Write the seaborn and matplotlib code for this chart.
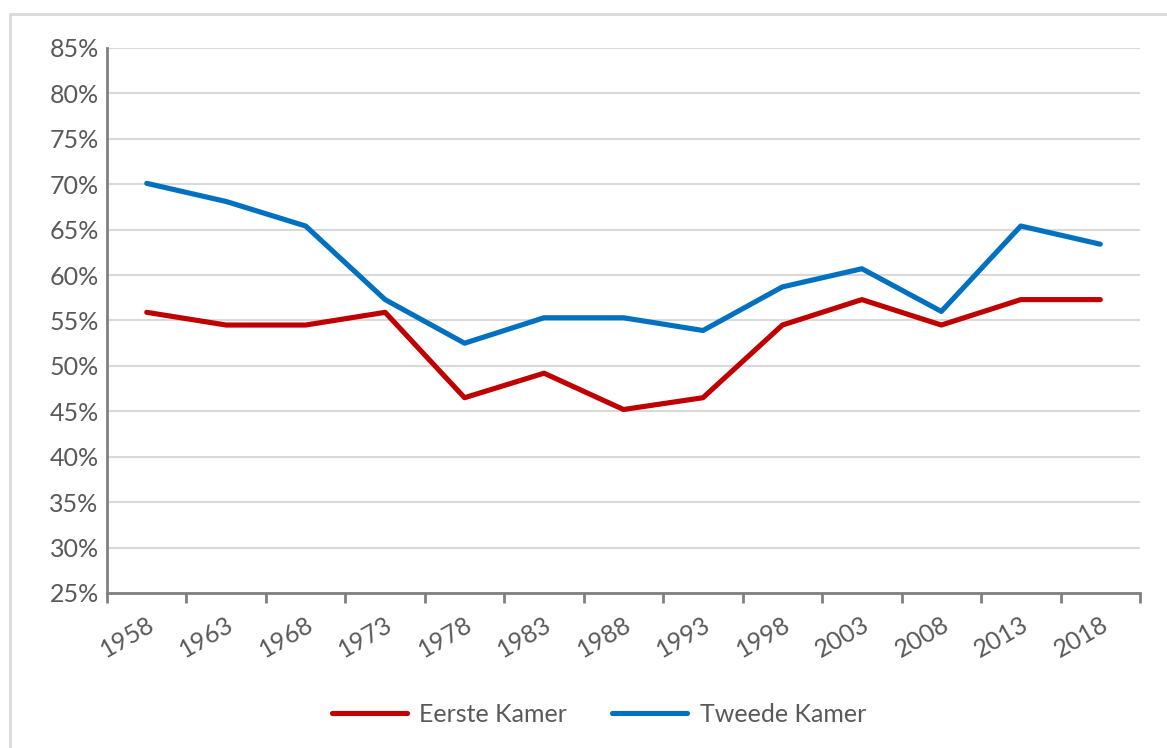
import pandas as pd
import matplotlib.pyplot as plt
import seaborn as sns
from matplotlib.patches import Rectangle
from matplotlib.ticker import FixedLocator, PercentFormatter

# Data (percentages)
years = ['1958', '1963', '1968', '1973', '1978', '1983', '1988',
         '1993', '1998', '2003', '2008', '2013', '2018']
eerste_kamer = [55.9, 54.5, 54.5, 55.9, 46.5, 49.2, 45.2,
                46.5, 54.5, 57.3, 54.5, 57.3, 57.3]
tweede_kamer = [70.1, 68.1, 65.4, 57.3, 52.5, 55.3, 55.3,
                53.9, 58.7, 60.7, 56.0, 65.4, 63.4]

df = pd.DataFrame({'year': years * 2,
                   'value': eerste_kamer + tweede_kamer,
                   'series': ['Eerste Kamer'] * len(years) + ['Tweede Kamer'] * len(years)})

sns.set_style('white')
plt.rcParams['font.family'] = ['Lato', 'DejaVu Sans']
text_color = '#595959'

fig = plt.figure(figsize=(11.67, 7.48), dpi=100)
ax = fig.add_axes([107 / 1167, 1 - 593 / 748, (1140 - 107) / 1167, (593 - 48) / 748])

# outer chart border
fig.patches.append(Rectangle((10 / 1167, -0.05), 1.1, 1 - 14 / 748 + 0.05,
                             transform=fig.transFigure, fill=False,
                             edgecolor='#d9d9d9', linewidth=2))

sns.lineplot(data=df, x='year', y='value', hue='series',
             palette={'Eerste Kamer': '#C00000', 'Tweede Kamer': '#0070C0'},
             linewidth=3.7, ax=ax, sort=False)

ax.set_ylim(25, 85)
ax.set_yticks(range(25, 90, 5))
ax.yaxis.set_major_formatter(PercentFormatter(decimals=0))
ax.set_xlim(-0.5, len(years) - 0.5)
ax.set_xticks(range(len(years)))
ax.set_xticklabels(years, rotation=30, ha='right', rotation_mode='anchor')
ax.xaxis.set_minor_locator(FixedLocator([i - 0.5 for i in range(len(years) + 1)]))
ax.tick_params(axis='x', which='major', length=0, pad=14, labelsize=18, labelcolor=text_color)
ax.tick_params(axis='x', which='minor', length=7, width=2, color='#808080', bottom=True)
ax.tick_params(axis='y', length=0, pad=6, labelsize=18, labelcolor=text_color)

ax.grid(axis='y', color='#d9d9d9', linewidth=1.5)
ax.set_axisbelow(True)
for side in ['top', 'right']:
    ax.spines[side].set_visible(False)
for side in ['left', 'bottom']:
    ax.spines[side].set_color('#808080')
    ax.spines[side].set_linewidth(2)

ax.set_xlabel('')
ax.set_ylabel('')
leg = ax.legend(loc='center', bbox_to_anchor=(599 / 1167, 1 - 714 / 748),
                bbox_transform=fig.transFigure, ncol=2, frameon=False,
                fontsize=18, labelcolor=text_color, handlelength=3.0,
                columnspacing=1.8, handletextpad=0.5)
for line in leg.get_lines():
    line.set_solid_capstyle('round')

fig.savefig('out.png', dpi=100)
